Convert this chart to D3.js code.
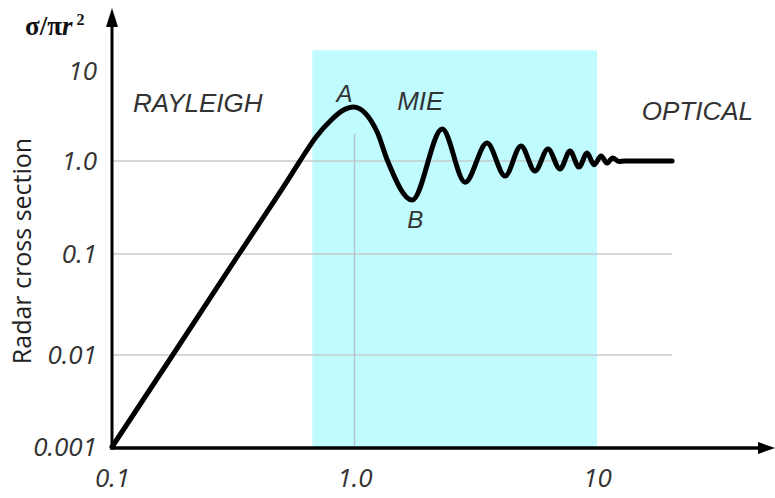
<!DOCTYPE html>
<html>
<head>
<meta charset="utf-8">
<script src="https://cdn.jsdelivr.net/npm/d3@7"></script>
<style>
  html, body { margin: 0; padding: 0; background: #ffffff; }
  svg { display: block; }
</style>
</head>
<body>
<svg id="chart" width="775" height="498"></svg>
<script>
// Normalised radar cross section of a conducting sphere against circumference / wavelength

// Axis ticks
const xTickValues = [0.1, 1, 10];
const xTickLabels = ["0.1", "1.0", "10"];
const yTickValues = [0.001, 0.01, 0.1, 1, 10];
const yTickLabels = ["0.001", "0.01", "0.1", "1.0", "10"];

// The curve: circumference/wavelength (x) and sigma / (pi r^2) (y)
const circumference = [0.1, 0.178, 0.334, 0.53, 0.6, 0.694, 0.8, 0.897, 0.99,
  1.24, 1.37, 1.73, 2.3, 2.86, 3.52, 4.18, 4.86, 5.55, 6.28, 7.04, 7.74,
  8.43, 9.1, 9.72, 10.4, 11.0, 11.6, 12.3, 13.0, 20.4];
const crossSection = [0.001, 0.01, 0.1, 0.62, 1.03, 1.85, 2.84, 3.66, 3.98,
  2.1, 1.0, 0.38, 2.27, 0.59, 1.58, 0.69, 1.47, 0.78, 1.36, 0.82, 1.29,
  0.86, 1.23, 0.91, 1.14, 0.95, 1.08, 0.99, 1.0, 1.0];

// Scattering regions
const regionNames = ["RAYLEIGH", "MIE", "OPTICAL"];
const regionLabelX = [0.122, 1.5, 15.3];
const regionLabelY = [3.5, 3.7, 2.86];
const mieRange = [0.67, 10];
const mieTop = 17;

// Marked points: A = first resonance peak, B = first trough
const pointNames = ["A", "B"];
const pointIndex = [8, 11];

const svg = d3.select("#chart");

const x = d3.scaleLog().domain([0.1, 10]).range([112, 597]);
const y = d3.scaleLog().domain(yTickValues).range([447, 355, 254, 161, 71]);

const data = circumference.map((c, i) => [c, crossSection[i]]);
const xEnd = d3.max(circumference);

// Mie region band
svg.append("rect")
  .attr("x", x(mieRange[0]))
  .attr("y", y(mieTop))
  .attr("width", x(mieRange[1]) - x(mieRange[0]))
  .attr("height", y(0.001) - y(mieTop))
  .attr("fill", "#c0fcff");

// Grid lines
svg.append("g")
  .selectAll("line")
  .data(yTickValues.filter(v => v > 0.001 && v < 10))
  .join("line")
  .attr("x1", x(0.1))
  .attr("x2", x(xEnd))
  .attr("y1", d => y(d))
  .attr("y2", d => y(d))
  .attr("stroke", "#c4cccc")
  .attr("stroke-width", 1.5);

svg.append("line")
  .attr("x1", x(1)).attr("x2", x(1))
  .attr("y1", y(0.001)).attr("y2", y(2))
  .attr("stroke", "#b4c4c6")
  .attr("stroke-width", 1.5);

// Axes (labels only; the axis lines are drawn as arrows)
const tickFont = "'Open Sans', 'DejaVu Sans', sans-serif";

const yAxis = svg.append("g")
  .attr("transform", `translate(${x(0.1)},0)`)
  .call(d3.axisLeft(y).tickValues(yTickValues)
    .tickFormat((d, i) => yTickLabels[i]).tickSize(0).tickPadding(15));
yAxis.select(".domain").remove();
yAxis.selectAll("text")
  .attr("font-family", tickFont)
  .attr("font-style", "italic")
  .attr("font-size", 26)
  .attr("fill", "#333");

const xAxis = svg.append("g")
  .attr("transform", `translate(0,${y(0.001)})`)
  .call(d3.axisBottom(x).tickValues(xTickValues)
    .tickFormat((d, i) => xTickLabels[i]).tickSize(0).tickPadding(22));
xAxis.select(".domain").remove();
xAxis.selectAll("text")
  .attr("font-family", tickFont)
  .attr("font-style", "italic")
  .attr("font-size", 26)
  .attr("fill", "#333");

// Axis lines with arrow heads
const ox = x(0.1), oy = y(0.001) + 1;
svg.append("line")
  .attr("x1", ox).attr("x2", ox)
  .attr("y1", oy + 1.5).attr("y2", 22)
  .attr("stroke", "#000").attr("stroke-width", 3);
svg.append("path")
  .attr("d", `M${ox},8 L${ox - 6},27 L${ox + 6},27 Z`)
  .attr("fill", "#000");
svg.append("line")
  .attr("x1", ox - 1.5).attr("x2", 762)
  .attr("y1", oy).attr("y2", oy)
  .attr("stroke", "#000").attr("stroke-width", 3.5);
svg.append("path")
  .attr("d", `M775,${oy} L758,${oy - 6} L758,${oy + 6} Z`)
  .attr("fill", "#000");

// Cross-section curve
const line = d3.line()
  .x(d => x(d[0]))
  .y(d => y(d[1]))
  .curve(d3.curveMonotoneX);

svg.append("path")
  .datum(data)
  .attr("d", line)
  .attr("fill", "none")
  .attr("stroke", "#000")
  .attr("stroke-width", 5)
  .attr("stroke-linejoin", "round")
  .attr("stroke-linecap", "round");

// Region labels
const labelFont = "'Liberation Sans', Arial, sans-serif";
svg.append("g")
  .selectAll("text")
  .data(regionNames)
  .join("text")
  .attr("x", (d, i) => x(regionLabelX[i]))
  .attr("y", (d, i) => y(regionLabelY[i]))
  .attr("font-family", labelFont)
  .attr("font-style", "italic")
  .attr("font-size", 26)
  .attr("fill", "#333")
  .text(d => d);

// Point labels A and B
const pointOffset = [[-9, -5], [3, 28]];
svg.append("g")
  .selectAll("text")
  .data(pointNames)
  .join("text")
  .attr("x", (d, i) => x(circumference[pointIndex[i]]) + pointOffset[i][0])
  .attr("y", (d, i) => y(crossSection[pointIndex[i]]) + pointOffset[i][1])
  .attr("text-anchor", "middle")
  .attr("font-family", labelFont)
  .attr("font-style", "italic")
  .attr("font-size", 24)
  .attr("fill", "#333")
  .text(d => d);

// Y axis title
svg.append("text")
  .attr("transform", "translate(31,251) rotate(-90)")
  .attr("text-anchor", "middle")
  .attr("font-family", tickFont)
  .attr("font-size", 25)
  .attr("fill", "#222")
  .text("Radar cross section");

// Quantity symbol above the y axis: sigma / (pi r^2)
const sym = svg.append("text")
  .attr("x", 25)
  .attr("y", 35)
  .attr("font-family", "'Liberation Serif', 'DejaVu Serif', serif")
  .attr("font-weight", "bold")
  .attr("font-size", 27)
  .attr("fill", "#111");
sym.append("tspan").text("σ/π");
sym.append("tspan").attr("font-style", "italic").text("r");
sym.append("tspan").attr("font-size", 16).attr("dx", 4).attr("dy", -10).text("2");
</script>
</body>
</html>
